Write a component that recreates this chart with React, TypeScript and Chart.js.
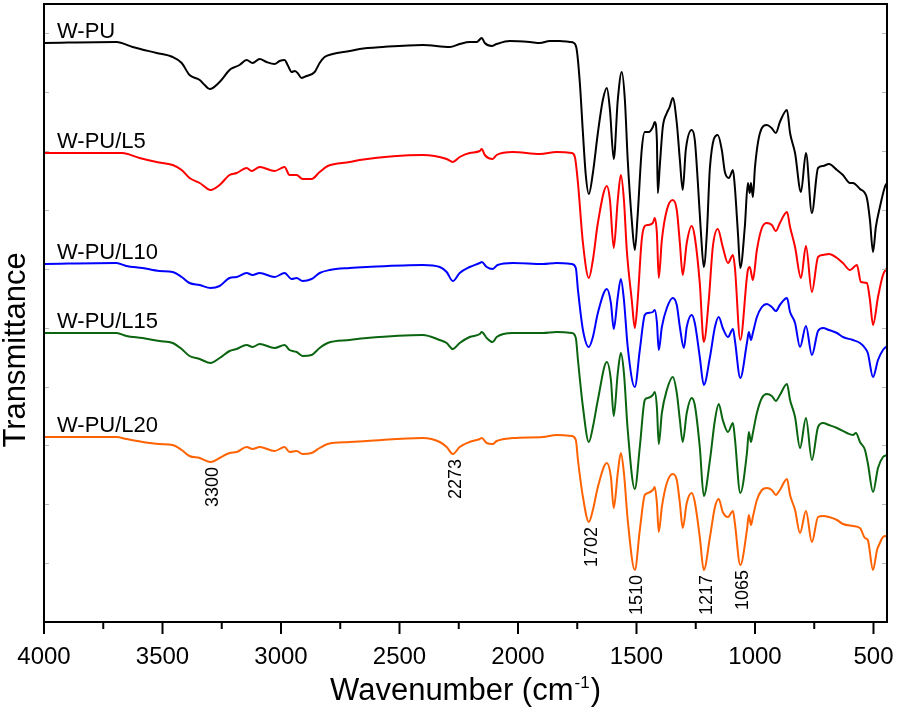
import { useEffect, useRef } from 'react';
import { Chart, registerables } from 'chart.js';

Chart.register(...registerables);

const FONT = "'Liberation Sans', Arial, Helvetica, sans-serif";

// Series names (curve labels)
const seriesNames = ['W-PU', 'W-PU/L5', 'W-PU/L10', 'W-PU/L15', 'W-PU/L20'];
const seriesColors = ['#000000', '#ff0000', '#0000ff', '#0a6410', '#ff6200'];

// W-PU
const wpuWn = [4000,3694,3626,3525,3457,3419,3386,3343,3322,3301,3259,3217,3204,3175,3145,3120,3090,3061,3027,3006,2985,2972,2955,2942,2930,2913,2892,2858,2837,2816,2782,2710,2668,2571,2402,2288,2246,2204,2174,2153,2140,2111,2090,2035,1950,1908,1866,1824,1781,1764,1752,1739,1726,1714,1701,1684,1663,1642,1625,1612,1596,1579,1562,1549,1537,1520,1507,1495,1478,1465,1448,1431,1423,1414,1410,1402,1389,1372,1360,1347,1330,1317,1305,1292,1267,1254,1241,1228,1216,1203,1190,1157,1140,1127,1110,1093,1085,1072,1062,1043,1030,1022,1017,1009,1000,979,950,930,912,895,865,852,831,806,785,760,734,713,688,654,629,599,587,557,528,515,502,490,473,452,443];
const wpuT = [579,580,575,569,565,559,547,542,537,533,540,552,554,557,562,559,563,560,558,561,562,557,550,551,549,544,546,550,559,565,568,571,573,575,577,575,578,580,580,584,579,576,578,581,580,579,581,581,580,579,572,539,489,447,428,449,489,522,534,512,463,522,550,522,462,402,372,407,472,490,490,495,500,482,429,455,495,509,515,524,499,462,432,472,492,482,439,389,355,389,455,487,472,450,444,452,435,389,354,395,439,429,439,425,455,489,497,494,489,500,512,489,469,430,469,409,454,456,458,452,447,439,439,433,424,402,370,395,415,435,439];

// W-PU/L5
const l5Wn = [4000,3670,3597,3525,3457,3419,3386,3343,3297,3259,3217,3187,3145,3124,3090,3027,2985,2964,2934,2909,2871,2837,2803,2710,2668,2402,2301,2275,2246,2204,2161,2153,2140,2107,2090,2022,1908,1837,1773,1760,1747,1726,1701,1684,1663,1625,1612,1596,1579,1566,1553,1541,1520,1507,1495,1478,1465,1452,1431,1423,1414,1406,1393,1372,1347,1330,1317,1305,1288,1267,1254,1233,1216,1195,1178,1157,1136,1114,1093,1085,1062,1030,1022,1009,992,971,950,929,912,895,865,852,831,806,785,760,734,713,688,654,629,599,570,553,528,515,502,481,460,443];
const l5T = [469,469,464,460,457,452,444,439,432,437,447,449,454,451,455,451,455,447,447,443,443,450,456,460,462,467,463,460,465,469,471,473,467,463,467,470,468,470,469,465,439,379,344,362,399,436,422,374,422,447,422,372,322,294,322,382,396,397,399,404,389,344,382,412,422,412,379,347,379,396,385,339,280,322,375,393,375,359,367,355,282,352,355,342,372,394,399,397,391,399,410,395,375,344,376,330,365,367,368,364,359,352,357,340,339,322,297,325,347,354];

// W-PU/L10
const l10Wn = [4000,3694,3652,3584,3513,3457,3419,3386,3343,3297,3259,3217,3187,3145,3120,3090,3027,2985,2955,2934,2909,2871,2837,2795,2710,2638,2402,2330,2301,2275,2246,2204,2161,2153,2132,2107,2086,2022,1895,1837,1773,1756,1747,1726,1701,1684,1663,1625,1608,1596,1579,1566,1553,1537,1507,1486,1465,1452,1431,1423,1414,1406,1393,1372,1347,1330,1317,1300,1288,1267,1254,1233,1216,1190,1169,1153,1136,1114,1093,1085,1062,1034,1026,1017,1009,992,971,950,929,912,895,865,852,831,810,785,760,734,713,688,654,629,587,557,536,524,502,481,460,443];
const l10T = [358,359,356,354,351,350,345,339,337,334,336,344,345,349,347,349,345,349,343,344,341,343,349,352,354,355,357,355,350,341,349,355,359,360,355,353,357,359,358,359,358,354,332,292,275,285,309,333,319,293,325,343,322,275,235,272,307,309,310,312,300,272,295,314,324,317,295,274,295,307,299,265,237,265,295,305,294,285,293,282,244,279,290,282,289,305,315,318,315,311,317,324,310,299,275,296,267,291,294,292,289,285,282,279,274,269,245,262,272,276];

// W-PU/L15
const l15Wn = [4000,3694,3652,3584,3513,3457,3419,3386,3343,3297,3259,3217,3187,3145,3120,3090,3027,2985,2964,2934,2909,2871,2837,2803,2710,2638,2402,2330,2301,2275,2246,2204,2161,2153,2132,2107,2090,2022,1895,1837,1773,1756,1747,1726,1701,1684,1663,1625,1608,1596,1579,1566,1553,1537,1507,1486,1465,1452,1431,1423,1414,1406,1393,1372,1347,1330,1317,1305,1288,1267,1254,1233,1216,1190,1169,1153,1136,1114,1093,1085,1062,1034,1026,1017,1009,992,971,950,929,912,895,865,852,831,810,785,760,734,713,688,654,612,587,574,557,536,524,502,481,460,443];
const l15T = [289,289,286,284,281,279,273,266,263,259,264,271,273,277,275,278,274,277,272,270,266,267,274,279,282,284,287,282,279,273,279,285,288,290,284,280,285,289,289,290,289,284,262,215,180,195,222,260,242,206,249,269,249,192,133,175,222,224,227,230,215,178,209,232,245,229,202,180,209,224,217,175,126,162,202,218,202,190,199,184,129,169,190,180,189,209,224,228,226,221,227,238,222,205,174,204,162,195,199,197,194,189,187,189,180,172,159,130,154,165,167];

// W-PU/L20
const l20Wn = [4000,3694,3652,3584,3513,3457,3419,3386,3343,3297,3259,3217,3187,3145,3120,3090,3027,2985,2964,2934,2909,2871,2837,2803,2710,2638,2402,2330,2301,2275,2246,2204,2161,2153,2132,2107,2090,2022,1895,1837,1773,1756,1747,1726,1701,1684,1663,1625,1608,1596,1579,1566,1553,1537,1507,1486,1465,1452,1431,1423,1414,1406,1393,1372,1347,1330,1317,1305,1288,1267,1254,1233,1216,1190,1169,1153,1136,1114,1093,1085,1062,1034,1026,1017,1009,992,971,950,929,912,895,865,852,831,810,785,760,734,713,688,654,629,587,557,536,524,502,485,473,460,443];
const l20T = [185,185,183,180,178,177,172,166,164,160,164,169,170,175,173,175,171,175,170,171,168,169,174,178,180,181,184,180,175,168,175,180,183,184,179,178,181,184,185,187,186,182,162,125,100,112,135,159,145,114,149,169,149,102,52,92,127,129,132,135,119,90,115,139,148,142,119,94,119,129,120,85,52,85,115,123,110,105,111,99,57,92,107,97,105,122,132,134,132,127,132,143,127,112,89,111,80,105,106,105,102,98,96,94,84,82,52,72,79,85,86];

const seriesWn = [wpuWn, l5Wn, l10Wn, l15Wn, l20Wn];
const seriesT = [wpuT, l5T, l10T, l15T, l20T];

// Peak annotations (wavenumbers, cm-1)
const peakLabels = ['3300', '2273', '1702', '1510', '1217', '1065'];
const peakWn = [3300, 2273, 1702, 1510, 1217, 1065];

// Axis
const xTickValues = [4000, 3500, 3000, 2500, 2000, 1500, 1000, 500];
const xTickLabels = ['4000', '3500', '3000', '2500', '2000', '1500', '1000', '500'];
const xMinorValues = [3750, 3250, 2750, 2250, 1750, 1250, 750];
const xMin = 443;
const xMax = 4000;
const yMin = 0;
const yMax = 618;

const overlay = {
  id: 'overlay',
  afterDraw(chart: any) {
    const { ctx, chartArea: a, scales } = chart;
    const xs = scales.x;
    const ys = scales.y;
    ctx.save();

    // faint inner y ticks
    ctx.strokeStyle = '#b8b8b8';
    ctx.lineWidth = 1;
    const step = (yMax - yMin) / 10.5;
    for (let k = 1; k <= 10; k++) {
      const py = Math.round(ys.getPixelForValue(yMin + k * step)) + 0.5;
      ctx.beginPath();
      ctx.moveTo(a.left, py); ctx.lineTo(a.left + 5, py);
      ctx.moveTo(a.right, py); ctx.lineTo(a.right - 5, py);
      ctx.stroke();
    }

    // frame
    ctx.strokeStyle = '#000';
    ctx.lineWidth = 2;
    ctx.strokeRect(a.left, a.top, a.right - a.left, a.bottom - a.top);

    // x ticks (outward)
    ctx.lineWidth = 2;
    const drawTick = (v: number, len: number) => {
      const px = xs.getPixelForValue(v);
      ctx.beginPath();
      ctx.moveTo(px, a.bottom);
      ctx.lineTo(px, a.bottom + len);
      ctx.stroke();
    };
    xTickValues.forEach((v) => drawTick(v, 12));
    xMinorValues.forEach((v) => drawTick(v, 7));

    // x tick labels
    ctx.fillStyle = '#000';
    ctx.font = `24px ${FONT}`;
    ctx.textAlign = 'center';
    ctx.textBaseline = 'alphabetic';
    xTickValues.forEach((v, i) => {
      ctx.fillText(xTickLabels[i], xs.getPixelForValue(v), a.bottom + 42);
    });

    // curve labels
    ctx.font = `22px ${FONT}`;
    ctx.textAlign = 'left';
    seriesNames.forEach((name, i) => {
      const py = ys.getPixelForValue(seriesT[i][0]) - 5;
      ctx.fillText(name, a.left + 13, py);
    });

    // peak labels below the lowest curve
    ctx.font = `18px ${FONT}`;
    const last = seriesT.length - 1;
    peakLabels.forEach((lab, i) => {
      const p = peakWn[i];
      let minV = Infinity;
      seriesWn[last].forEach((w, j) => {
        if (Math.abs(w - p) <= 30 && seriesT[last][j] < minV) minV = seriesT[last][j];
      });
      const y0 = ys.getPixelForValue(minV) + 5;
      const x0 = xs.getPixelForValue(p) + 3;
      ctx.save();
      ctx.translate(x0, y0);
      ctx.rotate(-Math.PI / 2);
      ctx.textAlign = 'right';
      ctx.textBaseline = 'middle';
      ctx.fillText(lab, 0, 0);
      ctx.restore();
    });

    // y axis title
    ctx.save();
    ctx.font = `31px ${FONT}`;
    ctx.translate(16, 350);
    ctx.rotate(-Math.PI / 2);
    ctx.textAlign = 'center';
    ctx.textBaseline = 'middle';
    ctx.fillText('Transmittance', 0, 0);
    ctx.restore();

    // x axis title with superscript
    const main = 'Wavenumber (cm';
    const sup = '-1';
    const close = ')';
    ctx.textBaseline = 'alphabetic';
    ctx.textAlign = 'left';
    ctx.font = `31px ${FONT}`;
    const w1 = ctx.measureText(main).width;
    const w3 = ctx.measureText(close).width;
    ctx.font = `17px ${FONT}`;
    const w2 = ctx.measureText(sup).width;
    const cx = (a.left + a.right) / 2;
    let x = cx - (w1 + w2 + w3 + 2) / 2;
    const by = 700;
    ctx.font = `31px ${FONT}`;
    ctx.fillText(main, x, by);
    x += w1 + 1;
    ctx.font = `17px ${FONT}`;
    ctx.fillText(sup, x, by - 12);
    x += w2 + 1;
    ctx.font = `31px ${FONT}`;
    ctx.fillText(close, x, by);

    ctx.restore();
  },
};

export default function App() {
  const ref = useRef<HTMLCanvasElement>(null);
  useEffect(() => {
    document.body.style.margin = '0';
    const canvas = ref.current;
    if (!canvas) return;
    const datasets = seriesNames.map((name, i) => ({
      label: name,
      data: seriesWn[i].map((w, j) => ({ x: w, y: seriesT[i][j] })),
      borderColor: seriesColors[i],
      backgroundColor: seriesColors[i],
      borderWidth: 2,
      pointRadius: 0,
      cubicInterpolationMode: 'monotone' as const,
      fill: false,
    }));
    const chart = new Chart(canvas, {
      type: 'line',
      data: { datasets },
      options: {
        responsive: false,
        animation: false,
        devicePixelRatio: 1,
        layout: { padding: { left: 44, right: 11, top: 4, bottom: 0 } },
        plugins: { legend: { display: false }, tooltip: { enabled: false } },
        scales: {
          x: {
            type: 'linear',
            reverse: true,
            min: xMin,
            max: xMax,
            grid: { display: false },
            border: { display: false },
            ticks: { display: false },
            afterFit: (scale: any) => {
              scale.height = 89;
            },
          },
          y: {
            display: false,
            min: yMin,
            max: yMax,
          },
        },
      },
      plugins: [overlay],
    });
    return () => chart.destroy();
  }, []);
  return (
    <div style={{ width: 898, height: 711 }}>
      <canvas ref={ref} width={898} height={711} style={{ width: 898, height: 711, display: 'block' }} />
    </div>
  );
}
